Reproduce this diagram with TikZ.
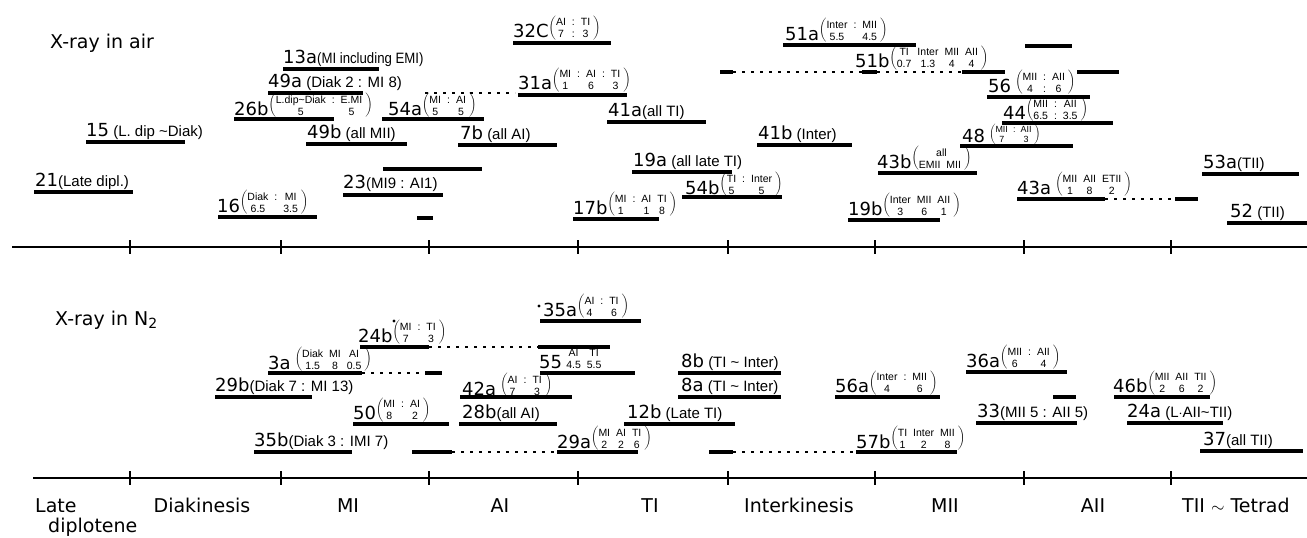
\documentclass[tikz,border=0pt]{standalone}
\usepackage{fontspec}
\usepackage{graphicx}
\setmainfont{Liberation Sans}
\newfontfamily\axfont{DejaVu Sans}
\newcommand\frtab[1]{\fontsize{10.5}{11.7}\selectfont\setlength\tabcolsep{3pt}\renewcommand\arraystretch{1}\begin{tabular}[b]{@{}*{8}{c}@{}}#1\end{tabular}}
\newcommand\mkpar[1]{\raisebox{6.6pt}{\fontsize{12}{12}\selectfont$\left#1\vrule height14pt depth8pt width0pt\right.\kern-1.2pt$}}
\newcommand\frx[2][1]{\scalebox{#1}{\mkpar{(}\frtab{#2}\mkpar{)}}}
\newcommand\nfr[1]{\frtab{#1}}
\newcommand\nm[1]{{\axfont\fontsize{18}{18}\selectfont #1}}
\newcommand\sg[3]{\draw[barline] (#1,#3) -- (#2,#3);}
\newcommand\dg[3]{\draw[dotline] (#1,#3) -- (#2,#3);}
\newcommand\lb[5]{\node[lab] (#1) at (#2,#3) {\nm{#4}#5};}
\tikzset{
  barline/.style={line width=3.2pt},
  dotline/.style={line width=2.8pt, dash pattern=on 2.8pt off 6.2pt},
  axisline/.style={line width=1.6pt},
  tickline/.style={line width=1.2pt},
  lab/.style={anchor=base west, inner sep=0pt, font=\fontsize{15}{16}\selectfont},
  ttl/.style={anchor=base west, inner sep=0pt, font=\axfont\fontsize{19}{20}\selectfont},
  stage/.style={anchor=base, inner sep=0pt, font=\axfont\fontsize{19}{20}\selectfont},
}
\begin{document}
\begin{tikzpicture}[x=1pt,y=-1pt]
\useasboundingbox (0,0) rectangle (1307,538);
% titles
\node[ttl] (tair) at (50,48.5) {X-ray in air};
\node[ttl] (tnn) at (55,325) {X-ray in N\raisebox{-0.35ex}{\fontsize{14}{14}\selectfont 2}};
% axes
\coordinate (ta) at (12,247); \coordinate (tb) at (1307,247);
\coordinate (ba) at (33,478); \coordinate (bb) at (1307,478);
\draw[axisline] (ta) -- (tb);
\draw[axisline] (ba) -- (bb);
\foreach \x in {130,281,429,578,728,875,1024,1171}{
  \draw[tickline] (\x,240) -- (\x,254);
  \draw[tickline] (\x,471) -- (\x,485);
}
% stage labels
\node[ttl] (s0) at (35,512) {Late};
\node[ttl] (s0b) at (48,532) {diplotene};
\node[stage] (s1) at (202,512) {Diakinesis};
\node[stage] (s2) at (348,512) {MI};
\node[stage] (s3) at (500,512) {AI};
\node[stage] (s4) at (650,512) {TI};
\node[stage] (s5) at (799,512) {Interkinesis};
\node[stage] (s6) at (945,512) {MII};
\node[stage] (s7) at (1093,512) {AII};
\node[ttl] (s8) at (1182,512) {TII $\sim$ Tetrad};
% ---------------- top panel: X-ray in air
\sg{283}{379}{69}\lb{l13a}{283}{63.5}{13a}{\scalebox{0.88}[1]{(MI including EMI)}}
\sg{268}{363}{93}\lb{l49a}{268}{87}{49a}{ (Diak 2 : MI 8)}
\sg{234}{334}{119}\lb{l26b}{234}{115}{26b}{\frx{L.dip\textasciitilde Diak & : & E.MI \\ 5 & & 5}}
\sg{382}{484}{119}\lb{l54a}{388}{115}{54a}{\frx{MI & : & AI \\ 5 & & 5}}
\dg{425}{515}{93}
\sg{518}{627}{95}\lb{l31a}{518}{89.5}{31a}{\frx{MI & : & AI & : & TI \\ 1 & & 6 & & 3}}
\sg{513}{611}{43}\lb{l32c}{513}{37.5}{32C}{\frx{AI & : & TI \\ 7 & : & 3}}
\sg{86}{185}{142}\lb{l15}{86}{136.5}{15}{ (L. dip \textasciitilde Diak)}
\sg{306}{407}{144}\lb{l49b}{307}{138.5}{49b}{ (all MII)}
\sg{458}{557}{145}\lb{l7b}{460}{139.5}{7b}{ (all AI)}
\sg{607}{706}{122}\lb{l41a}{608}{116.5}{41a}{(all TI)}
\sg{757}{852}{145}\lb{l41b}{758}{139.5}{41b}{ (Inter)}
\sg{34}{133}{192}\lb{l21}{35}{186.5}{21}{(Late dipl.)}
\sg{218}{317}{217}\lb{l16}{217}{212}{16}{\frx{Diak & : & MI \\ 6.5 & & 3.5}}
\sg{383}{482}{169}
\sg{343}{443}{195}\lb{l23}{343}{188.5}{23}{(MI9 : AI1)}
\sg{417}{433}{218}
\sg{632}{732}{172}\lb{l19a}{633}{166.5}{19a}{ (all late TI)}
\sg{682}{782}{197}\lb{l54b}{685}{194}{54b}{\frx{TI & : & Inter \\ 5 & & 5}}
\sg{573}{659}{219}\lb{l17b}{573}{214}{17b}{\frx{MI & : & AI & TI \\ 1 & & 1 & 8}}
\sg{783}{916}{45}\lb{l51a}{785}{40}{51a}{\frx{Inter & : & MII \\ 5.5 & & 4.5}}
\sg{720}{733}{72}\dg{733}{862}{72}\sg{862}{877}{72}\dg{877}{962}{72}\sg{962}{1005}{72}
\lb{l51b}{855}{67.5}{51b}{\frx{TI & Inter & MII & AII \\ 0.7 & 1.3 & 4 & 4}}
\sg{1025}{1072}{46}
\sg{1077}{1119}{72}
\sg{987}{1090}{97}\lb{l56}{988}{92}{56}{ \frx{MII & : & AII \\ 4 & : & 6}}
\sg{1002}{1113}{123}\lb{l44}{1003}{119}{44}{\frx{MII & : & AII \\ 6.5 & : & 3.5}}
\sg{960}{1073}{146}\lb{l48}{962}{142.5}{48}{ \frx[0.85]{MII & : & AII \\ 7 & & 3}}
\sg{878}{977}{173}\lb{l43b}{877}{168}{43b}{\frx{\multicolumn{2}{c}{all} \\ EMII & MII}}
\sg{1202}{1299}{174}\lb{l53a}{1203}{168}{53a}{(TII)}
\sg{1017}{1105}{199}\dg{1105}{1175}{199}\sg{1175}{1198}{199}
\lb{l43a}{1017}{194}{43a}{ \frx{MII & AII & ETII \\ 1 & 8 & 2}}
\sg{848}{940}{220}\lb{l19b}{848}{215}{19b}{\frx{Inter & MII & AII \\ 3 & 6 & 1}}
\sg{1227}{1307}{223}\lb{l52}{1230}{217}{52}{ (TII)}
% ---------------- bottom panel: X-ray in N2
\sg{540}{641}{321}\lb{l35a}{543}{316}{35a}{\frx{AI & : & TI \\ 4 & & 6}}
\fill (539,306) circle (1.6);
\sg{360}{429}{347}\dg{429}{538}{347}\sg{538}{610}{347}
\lb{l24b}{358}{342}{24b}{\frx{MI & : & TI \\ 7 & & 3}}
\fill (394,321) circle (1.6);
\sg{268}{362}{373}\dg{362}{425}{373}\sg{425}{442}{373}
\lb{l3a}{268}{369}{3a}{ \frx{Diak & MI & AI \\ 1.5 & 8 & 0.5}}
\sg{540}{635}{373}\lb{l55}{539}{368.5}{55}{ \nfr{AI & TI \\ 4.5 & 5.5}}
\sg{215}{312}{397}\lb{l29b}{215}{391.5}{29b}{(Diak 7 : MI 13)}
\sg{460}{572}{397}\lb{l42a}{462}{395}{42a}{ \frx{AI & : & TI \\ 7 & & 3}}
\sg{678}{781}{373}\lb{l8b}{681}{367.5}{8b}{ (TI \textasciitilde{} Inter)}
\sg{678}{781}{397}\lb{l8a}{681}{391.5}{8a}{ (TI \textasciitilde{} Inter)}
\sg{835}{940}{397}\lb{l56a}{835}{392.5}{56a}{\frx{Inter & : & MII \\ 4 & & 6}}
\sg{966}{1067}{372}\lb{l36a}{966}{367}{36a}{\frx{MII & : & AII \\ 6 & & 4}}
\sg{1053}{1076}{397}
\sg{1114}{1210}{397}\lb{l46b}{1113}{392.5}{46b}{\frx{MII & AII & TII \\ 2 & 6 & 2}}
\sg{353}{449}{424}\lb{l50}{353}{419.5}{50}{\frx{MI & : & AI \\ 8 & & 2}}
\sg{459}{557}{424}\lb{l28b}{462}{418.5}{28b}{(all AI)}
\sg{624}{735}{424}\lb{l12b}{627}{418.5}{12b}{ (Late TI)}
\sg{976}{1077}{423}\lb{l33}{977}{417.5}{33}{(MII 5 : AII 5)}
\sg{1127}{1223}{423}\lb{l24a}{1127}{417.5}{24a}{ (L$\cdot$AII\textasciitilde TII)}
\sg{254}{352}{452}\lb{l35b}{254}{446.5}{35b}{(Diak 3 : IMI 7)}
\sg{412}{452}{452}\dg{452}{557}{452}\sg{557}{638}{452}
\lb{l29a}{557}{448}{29a}{\frx{MI & AI & TI \\ 2 & 2 & 6}}
\sg{709}{733}{452}\dg{733}{856}{452}\sg{856}{957}{452}
\lb{l57b}{856}{448}{57b}{\frx{TI & Inter & MII \\ 1 & 2 & 8}}
\sg{1200}{1303}{451}\lb{l37}{1203}{445.5}{37}{(all TII)}
\end{tikzpicture}
\end{document}
